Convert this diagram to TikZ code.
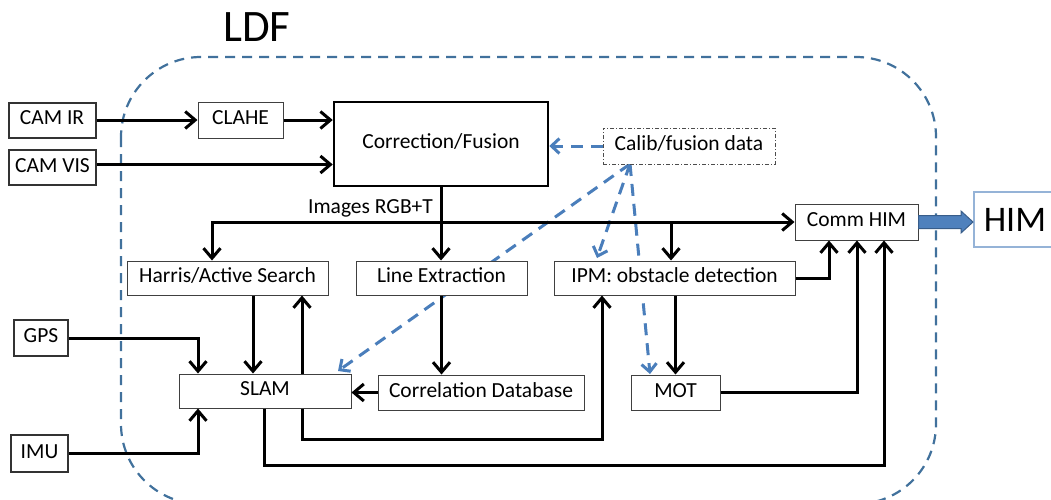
\documentclass[tikz,border=0pt]{standalone}
\usepackage{fontspec}
\setmainfont{Carlito}
\usetikzlibrary{arrows.meta,backgrounds,calc}
\definecolor{ldfblue}{HTML}{41719C}
\definecolor{dblue}{HTML}{4A7EBB}
\definecolor{fatfill}{HTML}{4F81BD}
\definecolor{fatdraw}{HTML}{385D8A}
\definecolor{himblue}{HTML}{95B3D7}
\begin{document}
\begin{tikzpicture}[x=1pt,y=-1pt,
  font=\fontsize{21.5}{24}\selectfont,
  box/.style={draw=black!75, line width=1pt, fill=white, inner sep=0pt,
    text height=0.92em, text depth=0pt},
  extbox/.style={box, draw=black!80, line width=2pt},
  bigbox/.style={box, draw=black, line width=2.5pt},
  arr/.style={line width=3pt, -{Straight Barb[length=10pt,width=17pt]}},
  barr/.style={line width=3pt, {Straight Barb[length=10pt,width=17pt]}-{Straight Barb[length=10pt,width=17pt]}},
  darr/.style={dblue, line width=3pt, dash pattern=on 12pt off 8pt,
    -{Straight Barb[length=8pt,width=15pt]}},
  ldfline/.style={ldfblue, line width=2.2pt, dash pattern=on 10pt off 7pt}
]
\useasboundingbox (0,0) rectangle (1051,499);

% nodes
\node[extbox, minimum width=87pt, minimum height=35pt] (camir) at (52,120) {CAM IR};
\node[extbox, minimum width=87pt, minimum height=35pt] (camvis) at (52.5,167.5) {CAM VIS};
\node[extbox, minimum width=54pt, minimum height=36pt] (gps) at (41,338) {GPS};
\node[extbox, minimum width=57pt, minimum height=37pt] (imu) at (39.5,453.5) {IMU};
\node[box, minimum width=85pt, minimum height=36pt] (clahe) at (240.5,120) {CLAHE};
\node[bigbox, minimum width=214pt, minimum height=84pt] (corr) at (441,144) {Correction/Fusion};
\node[box, draw=black!70, dash pattern=on 4pt off 2pt on 1pt off 2pt, minimum width=172pt, minimum height=36pt] (calib) at (689,146) {Calib/fusion data};
\node[box, minimum width=123pt, minimum height=36pt] (comm) at (856.5,222) {Comm HIM};
\node[draw=himblue, line width=1.5pt, anchor=west, minimum height=55pt, text width=100pt,
  inner xsep=10pt, align=left, font=\fontsize{36}{40}\selectfont] (him) at (973,219.5) {HIM};
\node[box, minimum width=201pt, minimum height=34pt] (harris) at (227.5,278) {Harris/Active Search};
\node[box, minimum width=171pt, minimum height=34pt] (lineext) at (441.5,278) {Line Extraction};
\node[box, minimum width=241pt, minimum height=34pt] (ipm) at (674.5,278) {IPM: obstacle detection};
\node[box, minimum width=172pt, minimum height=34pt] (slam) at (265,391) {SLAM};
\node[box, minimum width=206pt, minimum height=35pt] (corrdb) at (481,392.5) {Correlation Database};
\node[box, minimum width=89pt, minimum height=35pt] (mot) at (675.5,392.5) {MOT};
\node[font=\fontsize{45}{50}\selectfont] (ldf) at (257,27.5) {LDF};
\node[anchor=base] (imglbl) at (370.5,213) {Images RGB+T};

% helper coordinates
\coordinate (busL) at (212,222);
\coordinate (busI) at (671,222);
\coordinate (cA) at (253,0);
\coordinate (cB) at (302,0);
\coordinate (cG) at (198,0);
\coordinate (cE) at (264,0);
\coordinate (cF) at (829,0);
\coordinate (cH) at (857,0);
\coordinate (cC) at (602,439);
\coordinate (cD) at (884,465);
\coordinate (cP) at (630,164);
\coordinate (tS) at (338,371);
\coordinate (tI) at (597,258);
\coordinate (tM) at (650,374);

% background: boundary and dashed calibration links
\begin{pgfonlayer}{background}
  \draw[ldfline, rounded corners=80pt] (121,57) rectangle (936,504);
  \draw[darr] (cP) -- (tS);
  \draw[darr] (cP) -- (tI);
  \draw[darr] (cP) -- (tM);
\end{pgfonlayer}

% connectors
\draw[arr] (camir.east) -- (clahe.west);
\draw[arr] (clahe.east) -- (clahe.east -| corr.west);
\draw[arr] ([yshift=3pt]camvis.east) -- ([yshift=3pt]camvis.east -| corr.west);
\draw[darr] (calib.west) -- (calib.west -| corr.east);
\draw[arr] (corr.south) -- (corr.south |- lineext.north);
\draw[barr] (busL |- harris.north) -- (busL) -- (busL -| comm.west);
\draw[arr] (busI) -- (busI |- ipm.north);
\draw[arr] (cA |- harris.south) -- (cA |- slam.north);
\draw[arr] (cB |- slam.north) -- (cB |- harris.south);
\draw[arr] (gps.east) -| (cG |- slam.north);
\draw[arr] (imu.east) -| (cG |- slam.south);
\draw[arr] (lineext.south) -- (lineext.south |- corrdb.north);
\draw[arr] (corrdb.west) -- (corrdb.west -| slam.east);
\draw[arr] (cB |- slam.south) |- (cC) -- (cC |- ipm.south);
\draw[arr] (cE |- slam.south) |- (cD) -- (cD |- comm.south);
\draw[arr] (ipm.east) -| (cF |- comm.south);
\draw[arr] (mot.east) -| (cH |- comm.south);
\draw[arr] (mot.north |- ipm.south) -- (mot.north);

% fat arrow to HIM
\filldraw[fill=fatfill, draw=fatdraw, line width=1pt]
  ($(comm.east)+(0,-6.5)$) -- ($(comm.east -| him.west)+(-12,-6.5)$)
  -- ($(comm.east -| him.west)+(-12,-11)$) -- (comm.east -| him.west)
  -- ($(comm.east -| him.west)+(-12,11)$) -- ($(comm.east -| him.west)+(-12,6.5)$)
  -- ($(comm.east)+(0,6.5)$) -- cycle;
\end{tikzpicture}
\end{document}
